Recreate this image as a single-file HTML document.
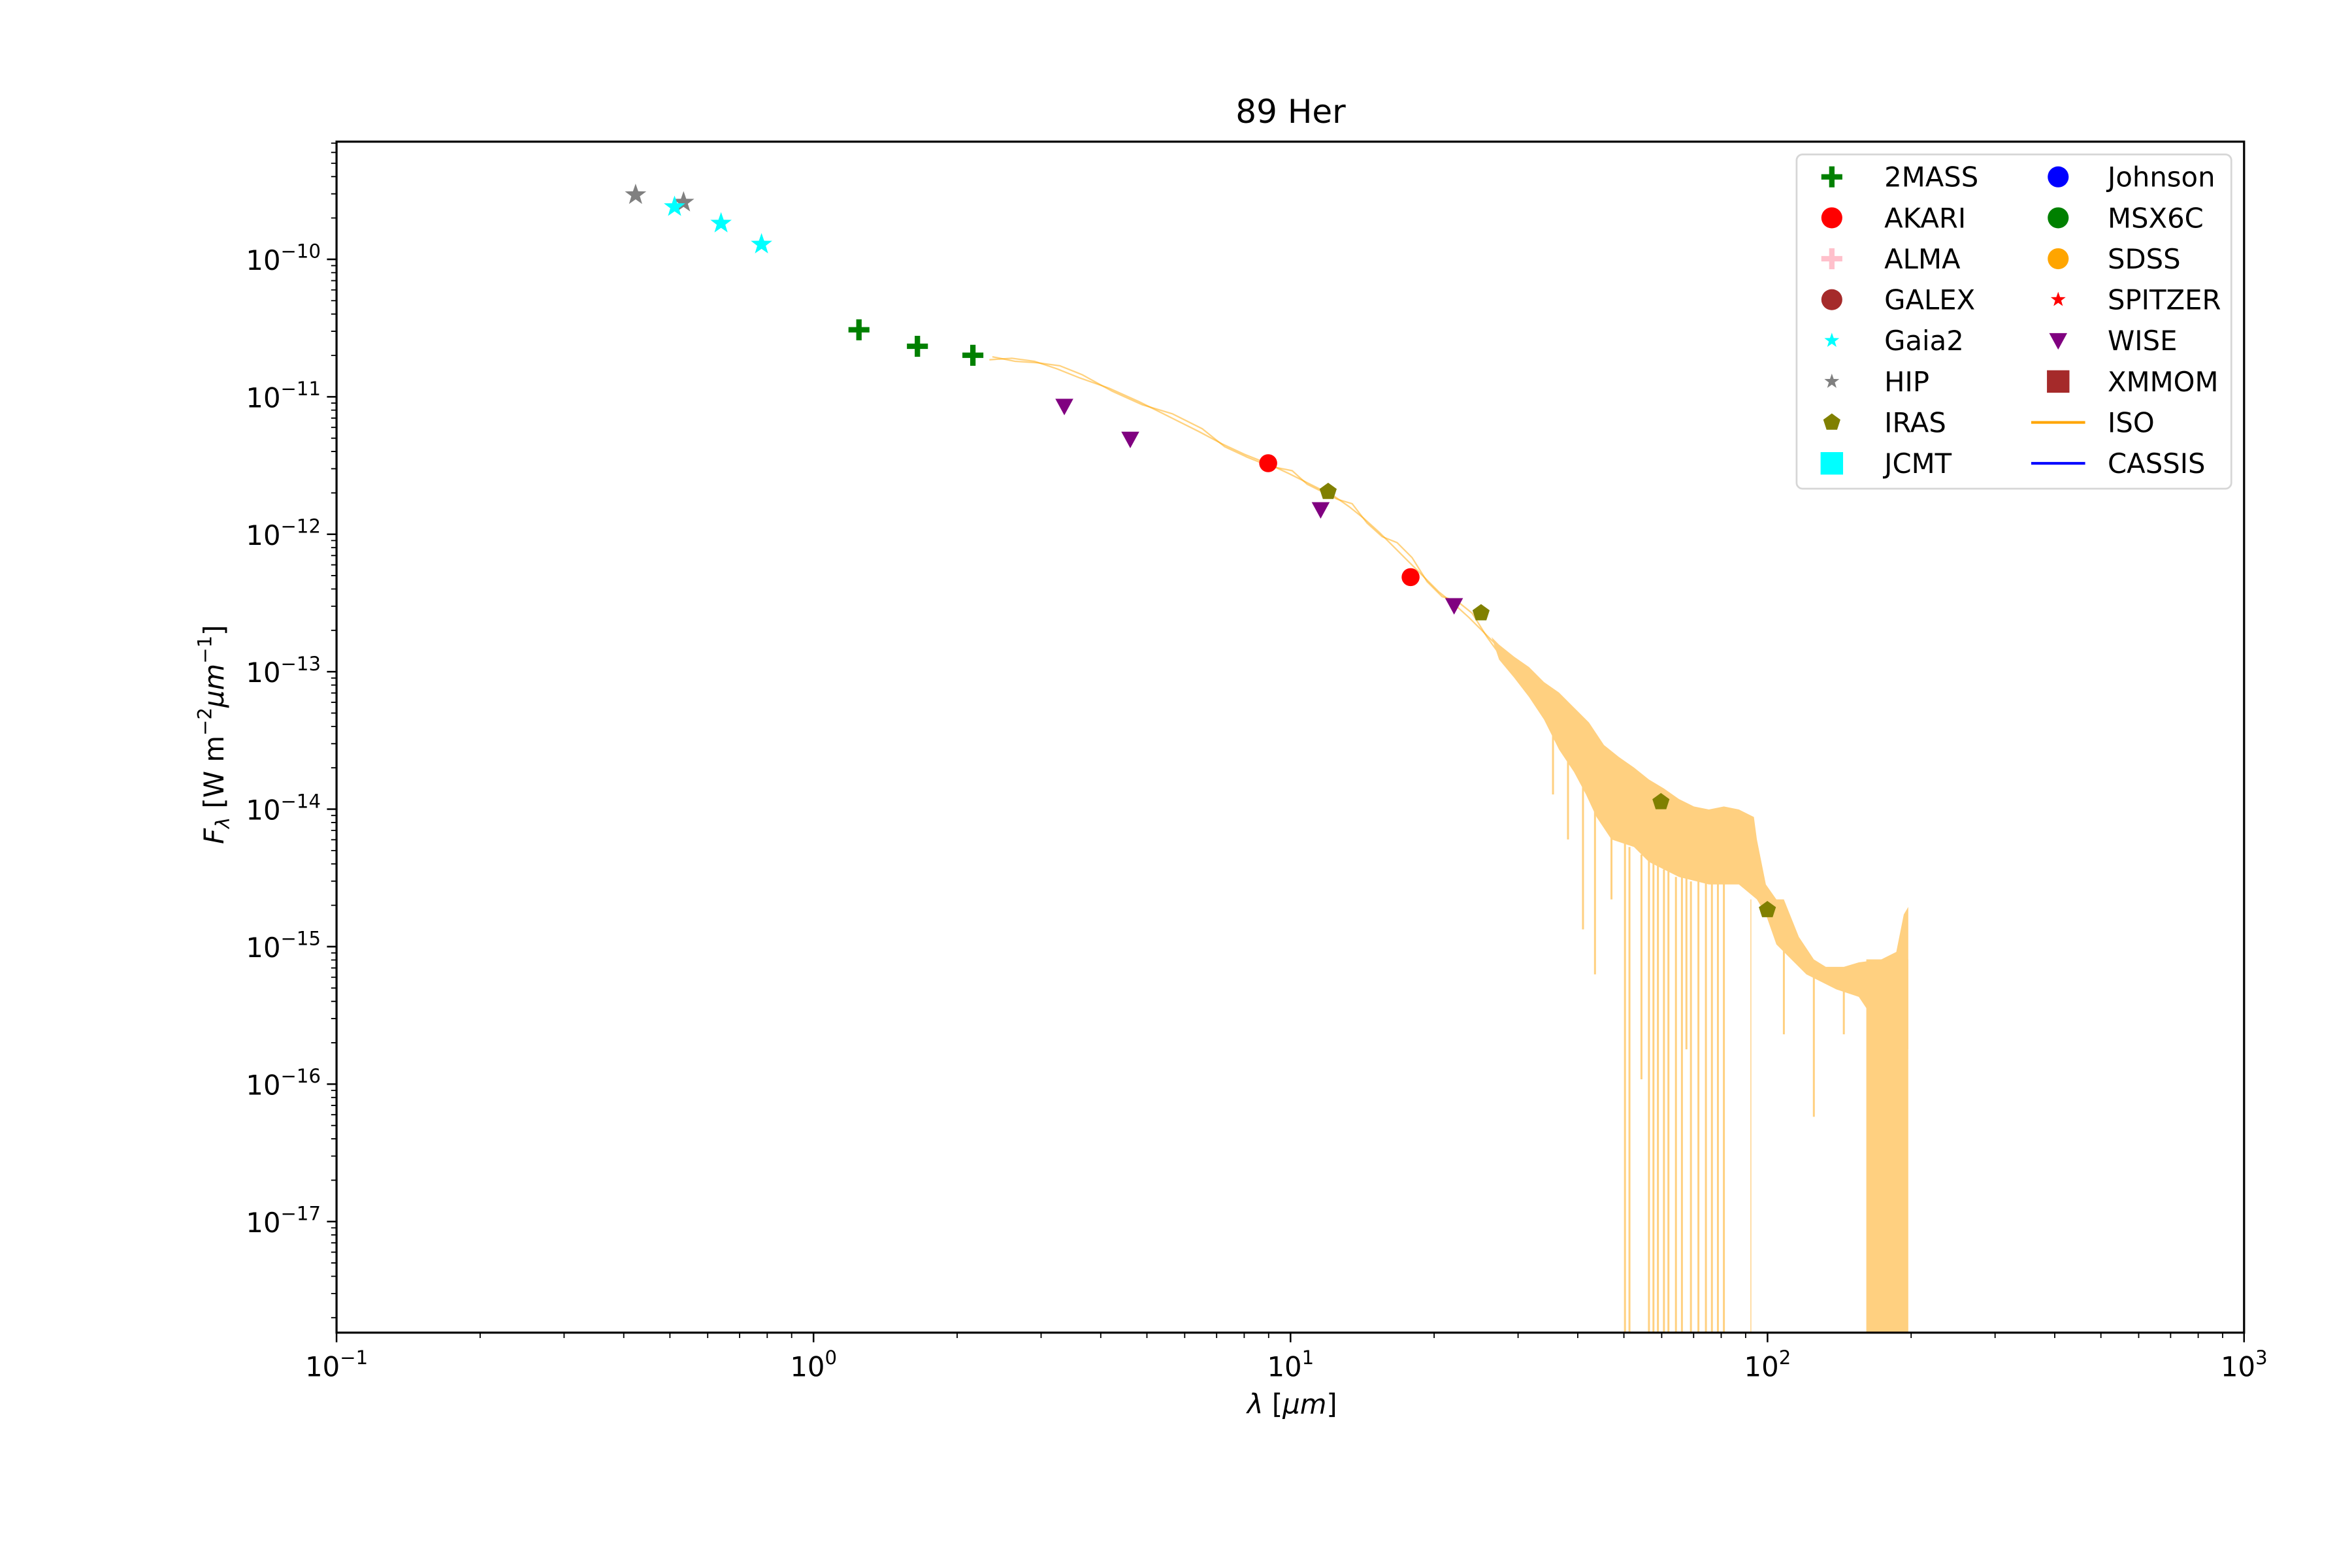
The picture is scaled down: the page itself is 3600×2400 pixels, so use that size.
<!DOCTYPE html>
<html><head><meta charset="utf-8"><style>
html,body{margin:0;padding:0;background:#fff;}
svg{display:block;}
text{font-family:"DejaVu Sans","Liberation Sans",sans-serif;fill:#000;}
</style></head><body>
<svg width="3600" height="2400" viewBox="0 0 1569 1046" xmlns="http://www.w3.org/2000/svg">
<defs>
<path id="star" d="M0,-7.5L1.76,-2.42L7.13,-2.32L2.85,0.92L4.41,6.07L0,3L-4.41,6.07L-2.85,0.92L-7.13,-2.32L-1.76,-2.42Z"/>
<path id="pent" d="M0,-6L5.71,-1.85L3.53,4.85L-3.53,4.85L-5.71,-1.85Z"/>
<path id="tri" d="M-6,-5L6,-5L0,6Z"/>
<path id="plus" d="M-7,0H7M0,-7V7" stroke-width="3.6" fill="none"/>
</defs>
<rect width="1569" height="1046" fill="#fff"/>
<text x="861" y="82" font-size="21.8" text-anchor="middle">89 Her</text>

<!-- ISO spectrum -->
<g fill="none" stroke="#ffa500" stroke-opacity="0.5" stroke-width="1">
<polyline points="660,240 675,239 690,241 705,246 720,252 740,259 760,268 780,278 800,288 815,296 830,303 845,309 860,316 870,321 880,326 890,331 900,338 910,346 920,355 930,365 940,375 950,385 960,395 970,403 980,412 990,422 1000,432"/>
<polyline points="662,238 677,241 692,242 707,244 722,250 742,261 762,270 782,276 802,286 817,298 832,305 847,311 862,314 872,323 882,328 892,333 902,336 912,349 922,358 932,362 942,372 952,388 962,398 972,401 982,409 992,425 1000,436"/>
</g>
<polygon fill="#ffd080" points="995,425 1000,430 1010,438 1020,445 1030,455 1040,462 1050,472 1060,482 1070,497 1080,505 1090,512 1100,520 1110,526 1120,533 1130,538 1140,540 1150,538 1160,540 1170,545 1172,560 1178,590 1185,600 1190,600 1200,625 1210,640 1218,645 1230,645 1240,642 1255,640 1265,635 1270,610 1273,605 1273,700 1260,680 1250,680 1240,665 1225,660 1215,655 1205,650 1195,640 1185,630 1178,610 1172,600 1160,590 1140,590 1120,585 1100,575 1090,565 1075,560 1065,545 1058,530 1050,515 1040,500 1030,480 1020,465 1010,452 1000,440"/>
<g stroke="#ffd080" stroke-width="1.3">
<line x1="1084" y1="560" x2="1084" y2="889"/><line x1="1087" y1="565" x2="1087" y2="889"/>
<line x1="1100" y1="570" x2="1100" y2="889"/><line x1="1103" y1="570" x2="1103" y2="889"/>
<line x1="1106" y1="575" x2="1106" y2="889"/><line x1="1110" y1="580" x2="1110" y2="889"/>
<line x1="1113" y1="580" x2="1113" y2="889"/><line x1="1118" y1="585" x2="1118" y2="889"/>
<line x1="1122" y1="585" x2="1122" y2="889"/><line x1="1128" y1="588" x2="1128" y2="889"/>
<line x1="1133" y1="588" x2="1133" y2="889"/><line x1="1138" y1="588" x2="1138" y2="889"/>
<line x1="1142" y1="588" x2="1142" y2="889"/><line x1="1146" y1="588" x2="1146" y2="889"/>
<line x1="1150" y1="588" x2="1150" y2="889"/><line x1="1168" y1="600" x2="1168" y2="889" stroke-width="0.6"/>
<line x1="1095" y1="570" x2="1095" y2="720"/><line x1="1125" y1="585" x2="1125" y2="700"/>
<line x1="1064" y1="540" x2="1064" y2="650"/><line x1="1056" y1="525" x2="1056" y2="620"/>
<line x1="1046" y1="505" x2="1046" y2="560"/><line x1="1036" y1="490" x2="1036" y2="530"/>
<line x1="1075" y1="555" x2="1075" y2="600"/><line x1="1190" y1="630" x2="1190" y2="690"/>
<line x1="1210" y1="650" x2="1210" y2="745"/><line x1="1230" y1="655" x2="1230" y2="690"/>
</g>
<rect x="1245" y="640" width="28" height="249" fill="#ffd080"/>

<!-- axes -->
<rect x="224.5" y="94.5" width="1272.5" height="794.5" fill="none" stroke="#000" stroke-width="1.4"/>
<g stroke="#000" stroke-width="1.1" fill="none">
<path d="M224.5 889v6.4M542.7 889v6.4M860.9 889v6.4M1179.1 889v6.4M1497 889v6.4"/>
<path stroke-width="0.8" d="M320.3 889v3.6M376.3 889v3.6M416.1 889v3.6M446.9 889v3.6M472.1 889v3.6M493.4 889v3.6M511.8 889v3.6M528.1 889v3.6M638.5 889v3.6M694.5 889v3.6M734.3 889v3.6M765.1 889v3.6M790.3 889v3.6M811.6 889v3.6M830 889v3.6M846.3 889v3.6M956.7 889v3.6M1012.7 889v3.6M1052.5 889v3.6M1083.3 889v3.6M1108.5 889v3.6M1129.8 889v3.6M1148.2 889v3.6M1164.5 889v3.6M1274.9 889v3.6M1330.9 889v3.6M1370.7 889v3.6M1401.5 889v3.6M1426.7 889v3.6M1448 889v3.6M1466.4 889v3.6M1482.7 889v3.6"/>
<path d="M224.5 173h-6.4M224.5 264.7h-6.4M224.5 356.4h-6.4M224.5 448.1h-6.4M224.5 539.8h-6.4M224.5 631.5h-6.4M224.5 723.2h-6.4M224.5 814.9h-6.4"/>
<path stroke-width="0.8" d="M224.5 145.4h-3.6M224.5 129.3h-3.6M224.5 117.8h-3.6M224.5 108.9h-3.6M224.5 101.7h-3.6M224.5 95.5h-3.6M224.5 237.1h-3.6M224.5 221h-3.6M224.5 209.5h-3.6M224.5 200.6h-3.6M224.5 193.4h-3.6M224.5 187.2h-3.6M224.5 181.9h-3.6M224.5 177.2h-3.6M224.5 328.8h-3.6M224.5 312.7h-3.6M224.5 301.2h-3.6M224.5 292.3h-3.6M224.5 285.1h-3.6M224.5 278.9h-3.6M224.5 273.6h-3.6M224.5 268.9h-3.6M224.5 420.5h-3.6M224.5 404.4h-3.6M224.5 392.9h-3.6M224.5 384h-3.6M224.5 376.8h-3.6M224.5 370.6h-3.6M224.5 365.3h-3.6M224.5 360.6h-3.6M224.5 512.2h-3.6M224.5 496.1h-3.6M224.5 484.6h-3.6M224.5 475.7h-3.6M224.5 468.5h-3.6M224.5 462.3h-3.6M224.5 457h-3.6M224.5 452.3h-3.6M224.5 603.9h-3.6M224.5 587.8h-3.6M224.5 576.3h-3.6M224.5 567.4h-3.6M224.5 560.2h-3.6M224.5 554h-3.6M224.5 548.7h-3.6M224.5 544h-3.6M224.5 695.6h-3.6M224.5 679.5h-3.6M224.5 668h-3.6M224.5 659.1h-3.6M224.5 651.9h-3.6M224.5 645.7h-3.6M224.5 640.4h-3.6M224.5 635.7h-3.6M224.5 787.3h-3.6M224.5 771.2h-3.6M224.5 759.7h-3.6M224.5 750.8h-3.6M224.5 743.6h-3.6M224.5 737.4h-3.6M224.5 732.1h-3.6M224.5 727.4h-3.6M224.5 879h-3.6M224.5 862.9h-3.6M224.5 851.4h-3.6M224.5 842.5h-3.6M224.5 835.3h-3.6M224.5 829.1h-3.6M224.5 823.8h-3.6M224.5 819.1h-3.6"/>
</g>
<g font-size="18.2" text-anchor="middle">
<text x="224.5" y="918">10<tspan font-size="12.7" dy="-8">−1</tspan></text>
<text x="542.7" y="918">10<tspan font-size="12.7" dy="-8">0</tspan></text>
<text x="860.9" y="918">10<tspan font-size="12.7" dy="-8">1</tspan></text>
<text x="1179.1" y="918">10<tspan font-size="12.7" dy="-8">2</tspan></text>
<text x="1497" y="918">10<tspan font-size="12.7" dy="-8">3</tspan></text>
</g>
<g font-size="18.2" text-anchor="end">
<text x="214" y="180">10<tspan font-size="12.7" dy="-8">−10</tspan></text>
<text x="214" y="271.7">10<tspan font-size="12.7" dy="-8">−11</tspan></text>
<text x="214" y="363.4">10<tspan font-size="12.7" dy="-8">−12</tspan></text>
<text x="214" y="455.1">10<tspan font-size="12.7" dy="-8">−13</tspan></text>
<text x="214" y="546.8">10<tspan font-size="12.7" dy="-8">−14</tspan></text>
<text x="214" y="638.5">10<tspan font-size="12.7" dy="-8">−15</tspan></text>
<text x="214" y="730.2">10<tspan font-size="12.7" dy="-8">−16</tspan></text>
<text x="214" y="821.9">10<tspan font-size="12.7" dy="-8">−17</tspan></text>
</g>
<text x="862" y="943" font-size="18.2" text-anchor="middle"><tspan font-style="italic">λ</tspan> [<tspan font-style="italic">μm</tspan>]</text>
<text transform="translate(149,490) rotate(-90)" font-size="18.2" text-anchor="middle"><tspan font-style="italic">F</tspan><tspan font-size="12.7" font-style="italic" dy="4">λ</tspan><tspan dy="-4"> [W m</tspan><tspan font-size="12.7" dy="-8">−2</tspan><tspan font-style="italic" dy="8">μm</tspan><tspan font-size="12.7" dy="-8">−1</tspan><tspan dy="8">]</tspan></text>

<!-- data points -->
<g fill="#808080"><use href="#star" x="424" y="130"/><use href="#star" x="456" y="135"/></g>
<g fill="#00ffff"><use href="#star" x="450" y="138"/><use href="#star" x="481" y="149"/><use href="#star" x="508" y="163"/></g>
<g stroke="#008000"><use href="#plus" x="573" y="220"/><use href="#plus" x="612" y="231"/><use href="#plus" x="649" y="237"/></g>
<g fill="#800080"><use href="#tri" x="710" y="271"/><use href="#tri" x="754" y="293"/><use href="#tri" x="881" y="340"/><use href="#tri" x="970" y="404"/></g>
<g fill="#ff0000"><circle cx="846" cy="309" r="6"/><circle cx="941" cy="385" r="6"/></g>
<g fill="#808000"><use href="#pent" x="886" y="328"/><use href="#pent" x="988" y="409"/><use href="#pent" x="1108" y="535"/><use href="#pent" x="1179" y="607"/></g>

<!-- legend -->
<rect x="1198.5" y="103" width="290" height="223" rx="4" fill="#fff" fill-opacity="0.8" stroke="#d6d6d6" stroke-width="1.2"/>
<g font-size="18.2">
<use href="#plus" x="1222" y="118" stroke="#008000"/><text x="1257" y="124.5">2MASS</text>
<circle cx="1222" cy="145.3" r="7" fill="#ff0000"/><text x="1257" y="151.8">AKARI</text>
<use href="#plus" x="1222" y="172.6" stroke="#ffc0cb"/><text x="1257" y="179.1">ALMA</text>
<circle cx="1222" cy="199.9" r="7" fill="#a52a2a"/><text x="1257" y="206.4">GALEX</text>
<g transform="translate(1222,227.2) scale(0.7)"><use href="#star" fill="#00ffff"/></g><text x="1257" y="233.7">Gaia2</text>
<g transform="translate(1222,254.5) scale(0.7)"><use href="#star" fill="#808080"/></g><text x="1257" y="261">HIP</text>
<use href="#pent" x="1222" y="281.8" fill="#808000"/><text x="1257" y="288.3">IRAS</text>
<rect x="1214.5" y="301.6" width="15" height="15" fill="#00ffff"/><text x="1257" y="315.6">JCMT</text>
<circle cx="1373" cy="118" r="7" fill="#0000ff"/><text x="1406" y="124.5">Johnson</text>
<circle cx="1373" cy="145.3" r="7" fill="#008000"/><text x="1406" y="151.8">MSX6C</text>
<circle cx="1373" cy="172.6" r="7" fill="#ffa500"/><text x="1406" y="179.1">SDSS</text>
<g transform="translate(1373,199.9) scale(0.7)"><use href="#star" fill="#ff0000"/></g><text x="1406" y="206.4">SPITZER</text>
<use href="#tri" x="1373" y="227.2" fill="#800080"/><text x="1406" y="233.7">WISE</text>
<rect x="1365.5" y="247" width="15" height="15" fill="#a52a2a"/><text x="1406" y="261">XMMOM</text>
<line x1="1355" y1="281.8" x2="1391" y2="281.8" stroke="#ffa500" stroke-width="1.8"/><text x="1406" y="288.3">ISO</text>
<line x1="1355" y1="309.1" x2="1391" y2="309.1" stroke="#0000ff" stroke-width="1.8"/><text x="1406" y="315.6">CASSIS</text>
</g>
</svg>
</body></html>
